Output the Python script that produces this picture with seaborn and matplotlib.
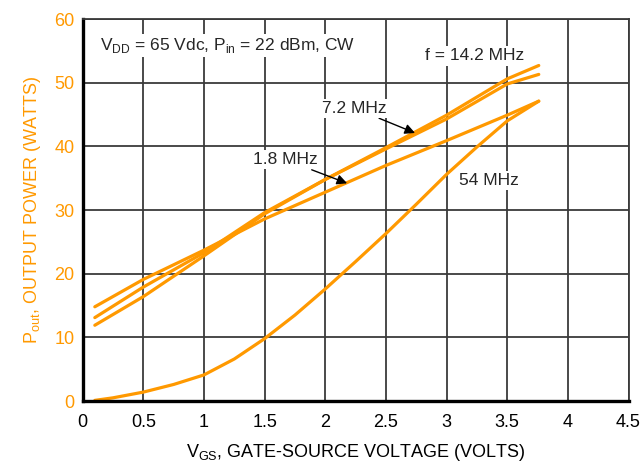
import matplotlib
matplotlib.use("Agg")
import matplotlib.pyplot as plt
from matplotlib import font_manager
import seaborn as sns
import pandas as pd

# ---------------- data ----------------
vgs = [0.1, 0.5, 1.0, 1.5, 2.0, 2.5, 3.0, 3.5, 3.76]
p_1_8 = [14.8, 19.1, 23.7, 28.6, 32.8, 37.0, 40.9, 44.9, 47.1]
p_7_2 = [13.1, 17.9, 23.3, 29.6, 34.8, 39.6, 44.3, 49.8, 51.3]
p_14_2 = [11.9, 16.4, 22.8, 29.4, 34.8, 39.8, 44.9, 50.6, 52.7]

vgs_54 = [0.1, 0.25, 0.5, 0.75, 1.0, 1.25, 1.5, 1.75, 2.0, 2.25, 2.5, 2.75, 3.0, 3.25, 3.5, 3.76]
p_54 = [0.1, 0.5, 1.4, 2.6, 4.1, 6.6, 9.8, 13.5, 17.6, 21.9, 26.3, 30.9, 35.6, 39.9, 44.0, 47.1]

x_ticks = [0, 0.5, 1, 1.5, 2, 2.5, 3, 3.5, 4, 4.5]
x_tick_labels = ["0", "0.5", "1", "1.5", "2", "2.5", "3", "3.5", "4", "4.5"]
y_ticks = [0, 10, 20, 30, 40, 50, 60]
y_tick_labels = ["0", "10", "20", "30", "40", "50", "60"]

series = {"1.8 MHz": (vgs, p_1_8), "7.2 MHz": (vgs, p_7_2),
          "14.2 MHz": (vgs, p_14_2), "54 MHz": (vgs_54, p_54)}

rows = []
for name, (xs, ys) in series.items():
    for xv, yv in zip(xs, ys):
        rows.append({"freq": name, "vgs": xv, "pout": yv})
df = pd.DataFrame(rows)

# ---------------- style ----------------
sns.set_theme(style="white")
names = {f.name for f in font_manager.fontManager.ttflist}
fam = "Liberation Sans Narrow" if "Liberation Sans Narrow" in names else "Liberation Sans"
plt.rcParams["font.family"] = [fam, "DejaVu Sans"]

ORANGE = "#FF9900"
GRID = "#3a3a3a"

fig = plt.figure(figsize=(6.43, 4.72), dpi=100)
ax = fig.add_axes([0.1286, 0.1504, 0.9775 - 0.1286, 0.9597 - 0.1504])

sns.lineplot(data=df, x="vgs", y="pout", hue="freq", units="freq", estimator=None,
             palette={k: ORANGE for k in series}, lw=2.3, legend=False, ax=ax,
             sort=False)
for ln in ax.get_lines():
    ln.set_solid_joinstyle("round")
    ln.set_solid_capstyle("round")

ax.set_xlim(0, 4.5)
ax.set_ylim(0, 60)
ax.set_xticks(x_ticks)
ax.set_xticklabels(x_tick_labels)
ax.set_yticks(y_ticks)
ax.set_yticklabels(y_tick_labels)
ax.tick_params(axis="x", length=0, pad=9, labelsize=13, labelcolor="black")
ax.tick_params(axis="y", length=0, pad=6, labelsize=13, labelcolor=ORANGE)

ax.grid(True, color=GRID, lw=1.3)
ax.set_axisbelow(True)
for s in ["left", "bottom"]:
    ax.spines[s].set_color("black")
    ax.spines[s].set_linewidth(2.4)
for s in ["top", "right"]:
    ax.spines[s].set_color(GRID)
    ax.spines[s].set_linewidth(1.3)

ax.set_xlabel("V$_{\\mathregular{GS}}$, GATE-SOURCE VOLTAGE (VOLTS)", fontsize=13,
              color="black", labelpad=8)
ax.set_ylabel("P$_{\\mathregular{out}}$, OUTPUT POWER (WATTS)", fontsize=13,
              color=ORANGE, labelpad=8)

box = dict(facecolor="white", edgecolor="none", pad=1.5)
ax.text(0.14, 55.9, "V$_{\\mathregular{DD}}$ = 65 Vdc, P$_{\\mathregular{in}}$ = 22 dBm, CW",
        fontsize=12.5, ha="left", va="center", bbox=box, zorder=5)
ax.text(3.23, 54.2, "f = 14.2 MHz", fontsize=12.5, ha="center", va="center", bbox=box, zorder=5)
ax.text(3.35, 34.7, "54 MHz", fontsize=12.5, ha="center", va="center", bbox=box, zorder=5)

ax.annotate("7.2 MHz", xy=(2.74, 42.1), xytext=(2.24, 46.0), fontsize=12.5,
            ha="center", va="center", bbox=box, zorder=5,
            arrowprops=dict(arrowstyle="-|>", color="black", lw=1.0,
                            shrinkA=1, shrinkB=0, mutation_scale=15))
ax.annotate("1.8 MHz", xy=(2.18, 34.2), xytext=(1.67, 37.9), fontsize=12.5,
            ha="center", va="center", bbox=box, zorder=5,
            arrowprops=dict(arrowstyle="-|>", color="black", lw=1.0,
                            shrinkA=1, shrinkB=0, mutation_scale=15))

fig.savefig("out.png", dpi=100)
